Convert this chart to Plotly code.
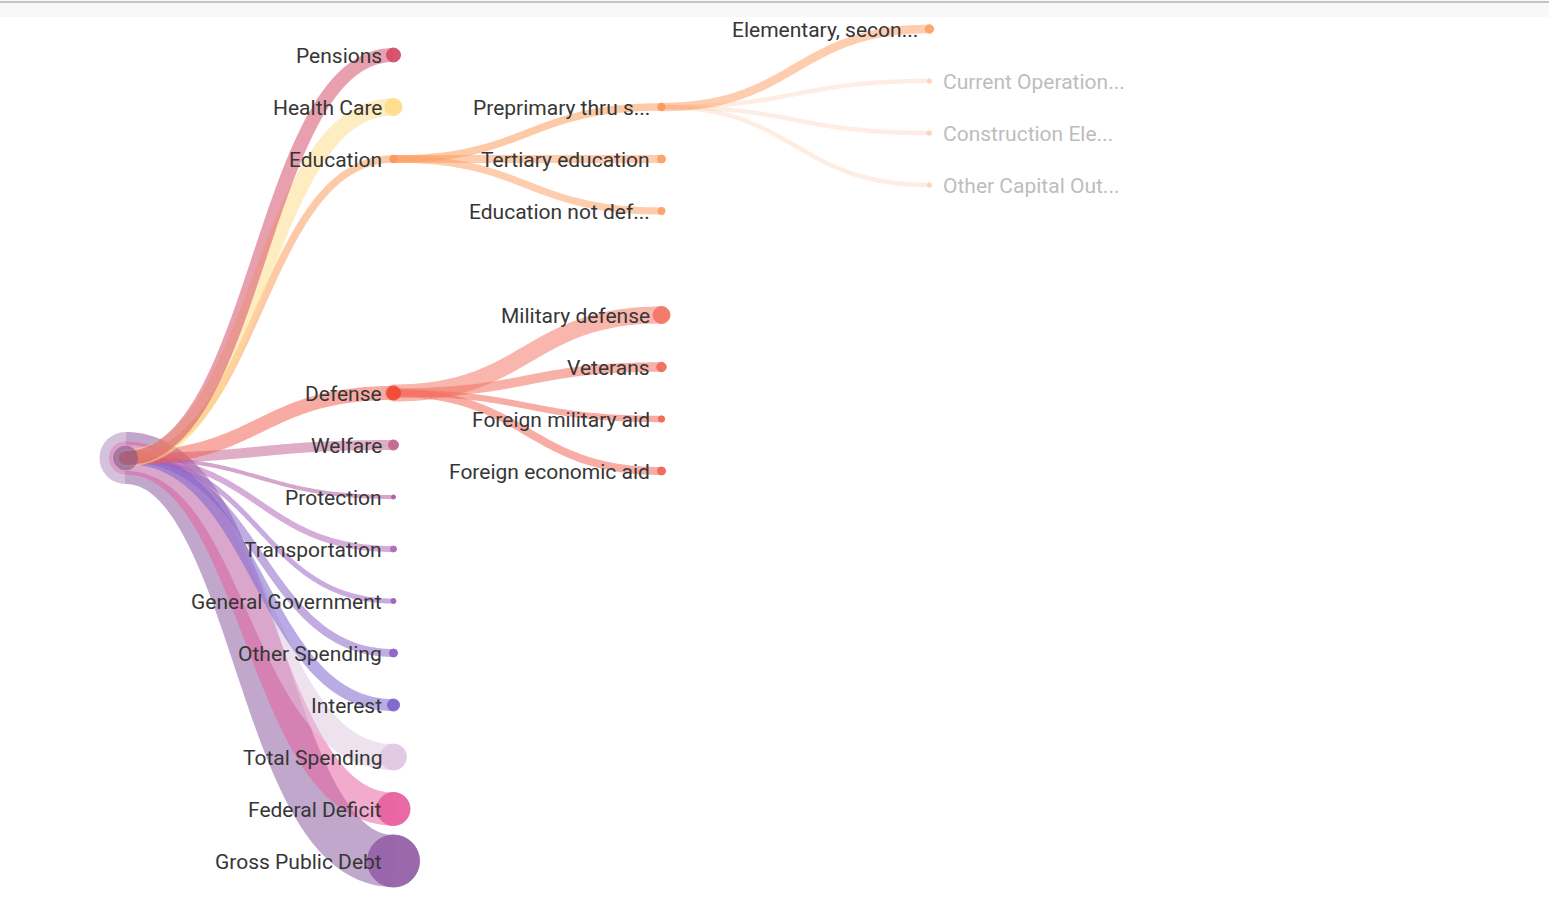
import numpy as np
import plotly.graph_objects as go

# ---------------- data ----------------
names = ["Spending", "Pensions", "Health Care", "Education", "Defense", "Welfare", "Protection",
         "Transportation", "General Government", "Other Spending", "Interest", "Total Spending",
         "Federal Deficit", "Gross Public Debt",
         "Preprimary thru s...", "Tertiary education", "Education not def...",
         "Military defense", "Veterans", "Foreign military aid", "Foreign economic aid",
         "Elementary, secon...", "Current Operation...", "Construction Ele...", "Other Capital Out..."]
parents = [None, "Spending", "Spending", "Spending", "Spending", "Spending", "Spending",
           "Spending", "Spending", "Spending", "Spending", "Spending",
           "Spending", "Spending",
           "Education", "Education", "Education",
           "Defense", "Defense", "Defense", "Defense",
           "Preprimary thru s...", "Preprimary thru s...", "Preprimary thru s...", "Preprimary thru s..."]
values = [576, 196, 289, 56, 196, 100, 16,
          36, 25, 64, 144, 676,
          1089, 2704,
          56, 64, 52,
          289, 90, 40, 64,
          72, 20, 20, 20]
faded = ["Current Operation...", "Construction Ele...", "Other Capital Out..."]

# ---------------- style ----------------
colors = {
    "Spending": "#7a4e85", "Pensions": "#d44a66", "Health Care": "#fedd8a", "Education": "#fd9a5a",
    "Defense": "#ef4a33", "Welfare": "#c26491", "Protection": "#b0569e", "Transportation": "#b264b6",
    "General Government": "#9a5fc2", "Other Spending": "#8a62c8", "Interest": "#7a62cf",
    "Total Spending": "#e0c8e2", "Federal Deficit": "#e8609e", "Gross Public Debt": "#9460a8",
    "Preprimary thru s...": "#fd9a5a", "Tertiary education": "#fda066", "Education not def...": "#fda066",
    "Military defense": "#f47464", "Veterans": "#f26a58", "Foreign military aid": "#f26452",
    "Foreign economic aid": "#f26452",
    "Elementary, secon...": "#fda066", "Current Operation...": "#fda066",
    "Construction Ele...": "#fda066", "Other Capital Out...": "#fda066",
}
link_colors = dict(colors)
link_colors["Gross Public Debt"] = "#8a589f"
link_colors["Defense"] = "#f26050"
MAX_D = 52.0
LEVEL_PX = 268.0
SLOT_PX = 52.0
X0_PX = 125.5
TOP_PX = 29.0
W, H = 1549, 899

vmax = max(values)
val = dict(zip(names, values))
diam = {n: MAX_D * np.sqrt(v / vmax) for n, v in val.items()}
children = {n: [] for n in names}
for n, p in zip(names, parents):
    if p is not None:
        children[p].append(n)
root = names[0]

# ---------------- tidy tree layout (sibling sep 1, cousin sep 2) ----------------
rel = {}

def build(n):
    kids = children[n]
    if not kids:
        return [(0.0, 0.0)]
    offs = []
    forest = None
    for k in kids:
        c = build(k)
        if forest is None:
            off = 0.0
        else:
            off = -1e9
            for d in range(min(len(c), len(forest))):
                sep = 1.0 if d == 0 else 2.0
                off = max(off, forest[d][1] + sep - c[d][0])
        offs.append(off)
        sh = [(a + off, b + off) for a, b in c]
        if forest is None:
            forest = sh
        else:
            merged = []
            for d in range(max(len(sh), len(forest))):
                if d < len(sh) and d < len(forest):
                    merged.append((min(sh[d][0], forest[d][0]), max(sh[d][1], forest[d][1])))
                elif d < len(sh):
                    merged.append(sh[d])
                else:
                    merged.append(forest[d])
            forest = merged
    center = (offs[0] + offs[-1]) / 2
    for k, o in zip(kids, offs):
        rel[k] = o - center
    return [(0.0, 0.0)] + [(a - center, b - center) for a, b in forest]

build(root)
pos_y = {root: 0.0}
depth = {root: 0}
order = [root]
i = 0
while i < len(order):
    n = order[i]
    for k in children[n]:
        pos_y[k] = pos_y[n] + rel[k]
        depth[k] = depth[n] + 1
        order.append(k)
    i += 1
umin = min(pos_y.values())

# axis ranges (units -> pixels)
x_range = [-X0_PX / LEVEL_PX, (W - X0_PX) / LEVEL_PX]
y_range = [umin + (H - TOP_PX) / SLOT_PX, umin - TOP_PX / SLOT_PX]

fig = go.Figure()

# ---------------- links ----------------
t = np.linspace(0, 1, 120)
for n in reversed(names[1:]):
    p = parents[names.index(n)]
    x0, y0 = depth[p], pos_y[p]
    x1, y1 = depth[n], pos_y[n]
    xm = (x0 + x1) / 2
    bx = (1 - t) ** 3 * x0 + 3 * (1 - t) ** 2 * t * xm + 3 * (1 - t) * t ** 2 * xm + t ** 3 * x1
    by = (1 - t) ** 3 * y0 + 3 * (1 - t) ** 2 * t * y0 + 3 * (1 - t) * t ** 2 * y1 + t ** 3 * y1
    w = diam[n]
    sizes = np.zeros(len(t))
    sizes[0] = w
    sizes[-1] = w
    op = 0.18 if n in faded else 0.52
    fig.add_trace(go.Scatter(
        x=bx, y=by, mode="lines+markers",
        line=dict(color=link_colors[n], width=w, shape="linear", simplify=False),
        marker=dict(size=sizes, color=link_colors[n], line=dict(width=0)),
        opacity=op, hoverinfo="skip", showlegend=False))

# ---------------- nodes ----------------
nx = [depth[n] for n in names]
ny = [pos_y[n] for n in names]
nop = [0.35 if n in faded else (0.55 if n == root else 0.9) for n in names]
fig.add_trace(go.Scatter(
    x=nx, y=ny, mode="markers",
    marker=dict(size=[diam[n] for n in names], color=[colors[n] for n in names],
                opacity=nop, line=dict(width=1, color=[colors[n] for n in names])),
    hovertext=names, hoverinfo="text", showlegend=False))

# ---------------- labels ----------------
for n in names[1:]:
    if n in faded:
        fig.add_annotation(x=depth[n], y=pos_y[n], text=n, showarrow=False,
                           xanchor="left", yanchor="middle", xshift=11, yshift=-1,
                           font=dict(family="Roboto", size=21, color="#bdbdbd"))
    else:
        fig.add_annotation(x=depth[n], y=pos_y[n], text=n, showarrow=False,
                           xanchor="right", yanchor="middle", xshift=-10, yshift=-1,
                           font=dict(family="Roboto", size=21, color="#363636"))

# page chrome band on top
fig.add_shape(type="rect", xref="paper", yref="paper", x0=0, x1=1, y0=1 - 17 / H, y1=1,
              fillcolor="#f8f8f8", line=dict(width=0), layer="below")
fig.add_shape(type="line", xref="paper", yref="paper", x0=0, x1=1, y0=1 - 2 / H, y1=1 - 2 / H,
              line=dict(color="#b5b5b5", width=1.5))

fig.update_layout(
    width=W, height=H, margin=dict(l=0, r=0, t=0, b=0),
    paper_bgcolor="white", plot_bgcolor="white",
    xaxis=dict(range=x_range, visible=False, fixedrange=True),
    yaxis=dict(range=y_range, visible=False, fixedrange=True),
    font=dict(family="Roboto"),
)
fig.write_html("out.html")
